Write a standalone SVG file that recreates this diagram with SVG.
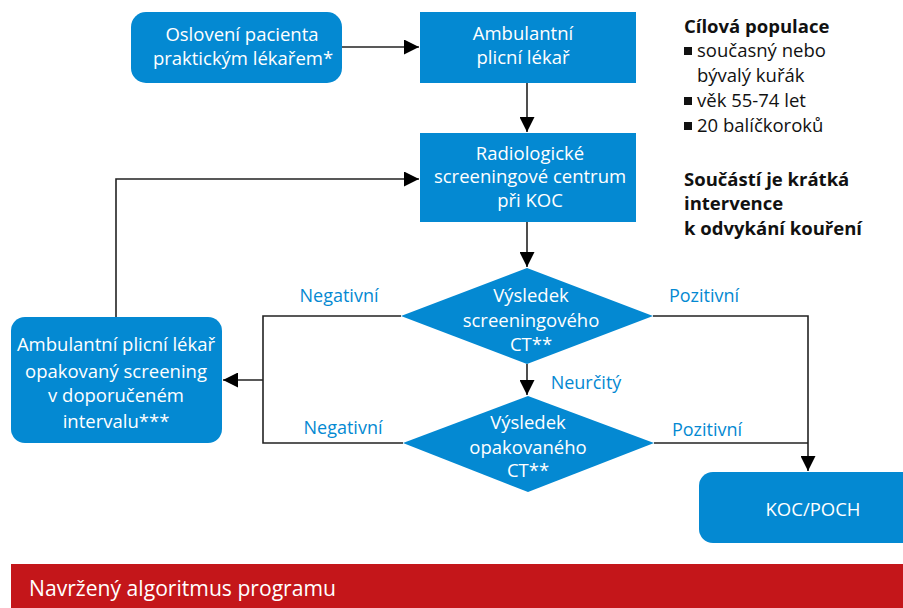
<svg xmlns="http://www.w3.org/2000/svg" width="903" height="608" viewBox="0 0 903 608">
<defs>
<marker id="ah" viewBox="0 0 10 10" refX="10" refY="5" markerWidth="15" markerHeight="15" markerUnits="userSpaceOnUse" orient="auto">
<path d="M0,0 L10,5 L0,10 z" fill="#000"/>
</marker>
<style>
.n{fill:#0489d2}
.t{font-family:"Open Sans","Noto Sans",sans-serif;font-size:18.5px;fill:#fff;text-anchor:middle}
.l{font-family:"Open Sans","Noto Sans",sans-serif;font-size:18px;fill:#0489d2;text-anchor:middle}
.k{font-family:"Open Sans","Noto Sans",sans-serif;font-size:18.5px;fill:#111}
.b{font-weight:bold}
.c{fill:none;stroke:#222;stroke-width:1.6}
</style>
</defs>
<rect width="903" height="608" fill="#fff"/>
<g id="connectors">
<path class="c" d="M342,47 H419" marker-end="url(#ah)"/>
<path class="c" d="M527,83 V132" marker-end="url(#ah)"/>
<path class="c" d="M527,222 V267" marker-end="url(#ah)"/>
<path class="c" d="M527,364 V395" marker-end="url(#ah)"/>
<path class="c" d="M401,316 H263 V443 H403"/>
<path class="c" d="M263,380 H223" marker-end="url(#ah)"/>
<path class="c" d="M116,317 V179 H419" marker-end="url(#ah)"/>
<path class="c" d="M653,316 H808 V471" marker-end="url(#ah)"/>
<path class="c" d="M654,443 H808"/>
</g>
<g id="n1"><rect class="n" x="131" y="12" width="211" height="71" rx="15"/>
<text class="t" x="242" y="41">Oslovení pacienta</text><text class="t" x="243" y="65">praktickým lékařem*</text></g>
<g id="n2"><rect class="n" x="420" y="12" width="216" height="71"/>
<text class="t" x="523" y="40">Ambulantní</text><text class="t" x="523" y="64">plicní lékař</text></g>
<g id="n3"><rect class="n" x="420" y="133" width="216" height="89"/>
<text class="t" x="530" y="160">Radiologické</text><text class="t" x="530" y="183">screeningové centrum</text><text class="t" x="530" y="207">při KOC</text></g>
<g id="d1"><polygon class="n" points="527,268 653,316 527,364 401,316"/>
<text class="t" x="531" y="302">Výsledek</text><text class="t" x="531" y="327">screeningového</text><text class="t" x="531" y="351">CT**</text></g>
<g id="d2"><polygon class="n" points="528,396 654,443 528,492 403,443"/>
<text class="t" x="528" y="429">Výsledek</text><text class="t" x="528" y="454">opakovaného</text><text class="t" x="528" y="477">CT**</text></g>
<g id="n4"><rect class="n" x="11" y="317" width="211" height="126" rx="14"/>
<text class="t" x="116" y="351">Ambulantní plicní lékař</text><text class="t" x="116" y="378">opakovaný screening</text><text class="t" x="116" y="402">v doporučeném</text><text class="t" x="116" y="428">intervalu***</text></g>
<g id="n5"><rect class="n" x="699" y="472" width="220" height="71" rx="14"/>
<text class="t" x="813" y="516">KOC/POCH</text></g>
<g id="labels">
<text class="l" x="339" y="302">Negativní</text>
<text class="l" x="343" y="434">Negativní</text>
<text class="l" x="704" y="302">Pozitivní</text>
<text class="l" x="707" y="436">Pozitivní</text>
<text class="l" x="586" y="389">Neurčitý</text>
</g>
<g id="info">
<text class="k b" x="684" y="33">Cílová populace</text>
<rect x="684" y="47" width="8" height="8" fill="#111"/><text class="k" x="697" y="57">současný nebo</text>
<text class="k" x="697" y="82">bývalý kuřák</text>
<rect x="684" y="97" width="8" height="8" fill="#111"/><text class="k" x="697" y="107">věk 55-74 let</text>
<rect x="684" y="122" width="8" height="8" fill="#111"/><text class="k" x="697" y="132">20 balíčkoroků</text>
<text class="k b" x="684" y="186">Součástí je krátká</text>
<text class="k b" x="684" y="210">intervence</text>
<text class="k b" x="684" y="235">k odvykání kouření</text>
</g>
<g id="banner"><rect x="11" y="564" width="892" height="44" fill="#c4161a"/>
<text x="29" y="596" font-family="Open Sans, sans-serif" font-size="21" fill="#fff" textLength="307" lengthAdjust="spacingAndGlyphs">Navržený algoritmus programu</text></g>
</svg>
